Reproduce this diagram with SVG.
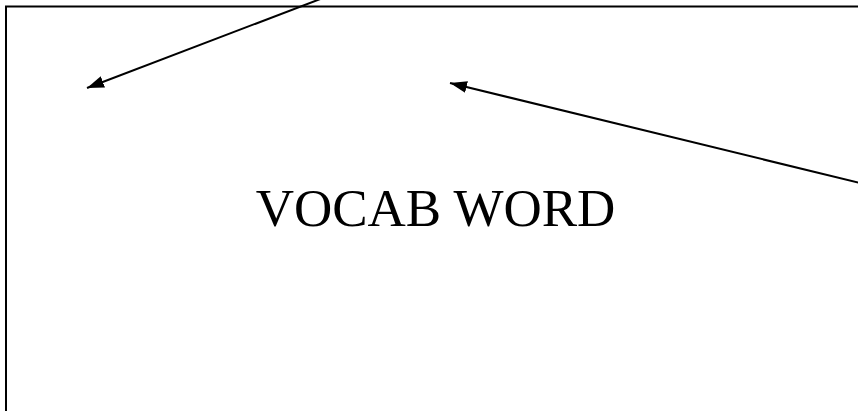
<svg xmlns="http://www.w3.org/2000/svg" width="858" height="411" viewBox="0 0 858 411">
<defs>
<style>
.frame{fill:none;stroke:#000;stroke-width:2}
.conn{fill:none;stroke:#000;stroke-width:2}
.label{font-family:"Liberation Serif","Times New Roman",serif;font-size:53px;fill:#000}
</style>
<marker id="arrow" markerUnits="userSpaceOnUse" markerWidth="18" markerHeight="14" refX="17" refY="6" orient="auto">
<path d="M0,0 L17,6 L0,12 Z" fill="#000"/>
</marker>
</defs>
<rect width="858" height="411" fill="#fff"/>
<g id="card">
<path class="frame" d="M6,420 L6,6.5 L870,6.5"/>
<text class="label" x="435.5" y="226" text-anchor="middle">VOCAB WORD</text>
</g>
<g id="connectors">
<line class="conn" x1="323" y1="-2" x2="87" y2="88" marker-end="url(#arrow)"/>
<line class="conn" x1="860" y1="183" x2="450" y2="83" marker-end="url(#arrow)"/>
</g>
</svg>
